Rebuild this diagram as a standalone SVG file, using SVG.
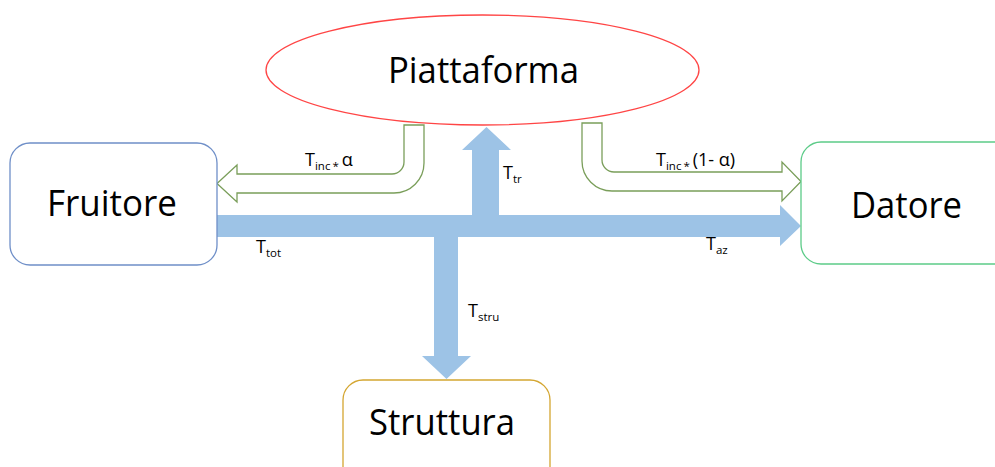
<svg xmlns="http://www.w3.org/2000/svg" width="995" height="467" viewBox="0 0 995 467">
  <style>
    .lbl { font-family: "Open Sans", "Liberation Sans", sans-serif; fill: #000; }
    .big { font-size: 36px; }
    .sm { font-size: 18px; }
    .sub { font-size: 11.5px; }
    .flow { fill: #9DC3E6; stroke: none; }
    .share { fill: #fff; stroke: #7A9E5A; stroke-width: 1.3; }
  </style>
  <rect width="995" height="467" fill="#fff"/>

  <!-- money flows -->
  <g id="connectors">
    <!-- main flow Fruitore -> Datore -->
    <path class="flow" d="M217,215 H780 V205 L801,226 L780,246 V237 H217 Z"/>
    <!-- branch up to Piattaforma -->
    <path class="flow" d="M472,215 V150 H462 L486.5,127 L511,150 H499 V215 Z"/>
    <!-- branch down to Struttura -->
    <path class="flow" d="M434,237 V356 H422 L446.5,379 L471,356 H458 V237 Z"/>
    <!-- share back to Fruitore -->
    <path class="share" d="M404,125 H424 V163 A30,30 0 0 1 394,193 H237 V202 L217,183.5 L237,165 V174 H392 A12,12 0 0 0 404,162 Z"/>
    <!-- share to Datore -->
    <path class="share" d="M582,123 H602 V160 A12,12 0 0 0 614,172 H782 V162 L801,181.5 L782,201 V191 H612 A30,30 0 0 1 582,161 Z"/>

    <text class="lbl sm" x="305" y="166">T<tspan class="sub" dy="4">inc</tspan><tspan class="sub" dx="2">*</tspan><tspan dy="-4" dx="3">α</tspan></text>
    <text class="lbl sm" x="656" y="166">T<tspan class="sub" dy="4">inc</tspan><tspan class="sub" dx="2">*</tspan><tspan dy="-4" dx="3">(1- α)</tspan></text>
    <text class="lbl sm" x="503" y="179">T<tspan class="sub" dy="4">tr</tspan></text>
    <text class="lbl sm" x="256" y="253">T<tspan class="sub" dy="4">tot</tspan></text>
    <text class="lbl sm" x="706" y="250">T<tspan class="sub" dy="4">az</tspan></text>
    <text class="lbl sm" x="468" y="317">T<tspan class="sub" dy="4">stru</tspan></text>
  </g>

  <g id="piattaforma">
    <ellipse cx="482.5" cy="70" rx="216.5" ry="55" fill="#fff" stroke="#FF4545" stroke-width="1.3"/>
    <text class="lbl big" x="388" y="83" textLength="191" lengthAdjust="spacingAndGlyphs">Piattaforma</text>
  </g>

  <g id="fruitore">
    <rect x="10" y="143" width="207" height="122" rx="20" fill="#fff" stroke="#6F8FC8" stroke-width="1.3"/>
    <text class="lbl big" x="47" y="216" textLength="130" lengthAdjust="spacingAndGlyphs">Fruitore</text>
  </g>

  <g id="datore">
    <rect x="801" y="142" width="220" height="122" rx="20" fill="#fff" stroke="#5CCB88" stroke-width="1.3"/>
    <text class="lbl big" x="851" y="218" textLength="111" lengthAdjust="spacingAndGlyphs">Datore</text>
  </g>

  <g id="struttura">
    <rect x="343" y="380" width="207" height="122" rx="20" fill="#fff" stroke="#D4A631" stroke-width="1.3"/>
    <text class="lbl big" x="369" y="435" textLength="146" lengthAdjust="spacingAndGlyphs">Struttura</text>
  </g>
</svg>
